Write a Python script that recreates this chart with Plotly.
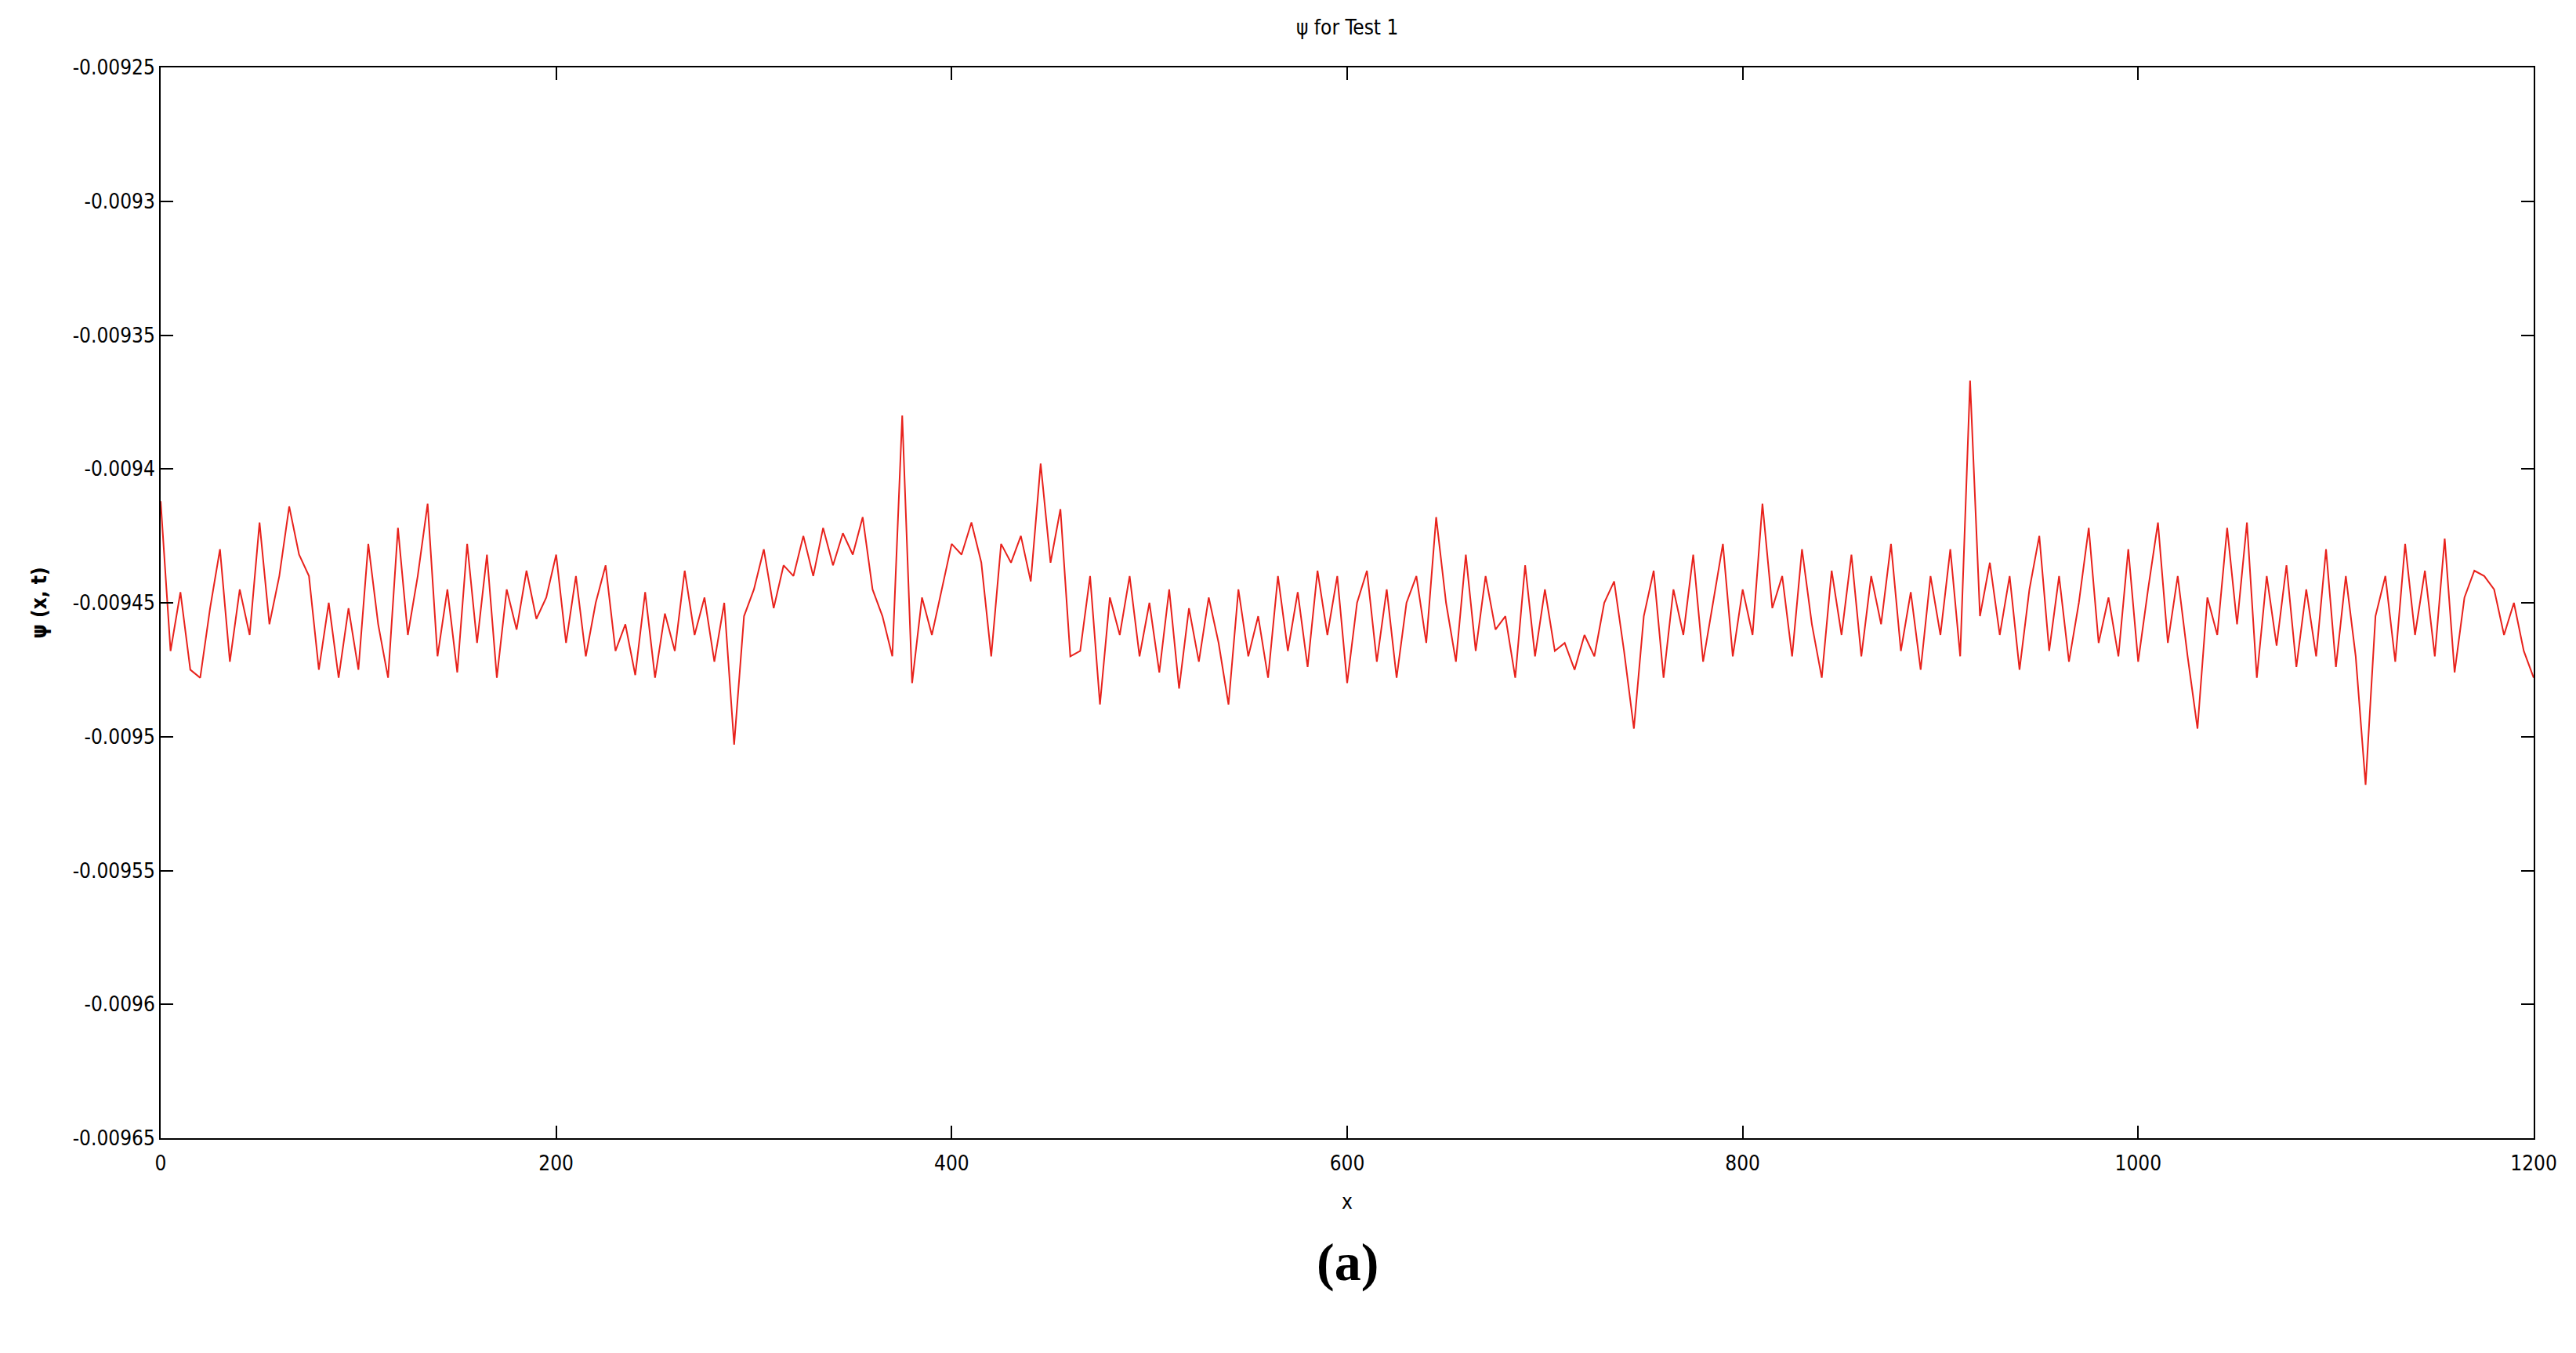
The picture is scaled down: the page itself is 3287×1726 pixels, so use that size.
import plotly.graph_objects as go

x_vals = list(range(0, 1201, 5))
psi = [
-0.009412,-0.009468,-0.009446,-0.009475,-0.009478,-0.009452,-0.009430,-0.009472,-0.009445,-0.009462,
-0.009420,-0.009458,-0.009440,-0.009414,-0.009432,-0.009440,-0.009475,-0.009450,-0.009478,-0.009452,
-0.009475,-0.009428,-0.009458,-0.009478,-0.009422,-0.009462,-0.009440,-0.009413,-0.009470,-0.009445,
-0.009476,-0.009428,-0.009465,-0.009432,-0.009478,-0.009445,-0.009460,-0.009438,-0.009456,-0.009448,
-0.009432,-0.009465,-0.009440,-0.009470,-0.009450,-0.009436,-0.009468,-0.009458,-0.009477,-0.009446,
-0.009478,-0.009454,-0.009468,-0.009438,-0.009462,-0.009448,-0.009472,-0.009450,-0.009503,-0.009455,
-0.009445,-0.009430,-0.009452,-0.009436,-0.009440,-0.009425,-0.009440,-0.009422,-0.009436,-0.009424,
-0.009432,-0.009418,-0.009445,-0.009455,-0.009470,-0.009380,-0.009480,-0.009448,-0.009462,-0.009445,
-0.009428,-0.009432,-0.009420,-0.009435,-0.009470,-0.009428,-0.009435,-0.009425,-0.009442,-0.009398,
-0.009435,-0.009415,-0.009470,-0.009468,-0.009440,-0.009488,-0.009448,-0.009462,-0.009440,-0.009470,
-0.009450,-0.009476,-0.009445,-0.009482,-0.009452,-0.009472,-0.009448,-0.009465,-0.009488,-0.009445,
-0.009470,-0.009455,-0.009478,-0.009440,-0.009468,-0.009446,-0.009474,-0.009438,-0.009462,-0.009440,
-0.009480,-0.009450,-0.009438,-0.009472,-0.009445,-0.009478,-0.009450,-0.009440,-0.009465,-0.009418,
-0.009450,-0.009472,-0.009432,-0.009468,-0.009440,-0.009460,-0.009455,-0.009478,-0.009436,-0.009470,
-0.009445,-0.009468,-0.009465,-0.009475,-0.009462,-0.009470,-0.009450,-0.009442,-0.009468,-0.009497,
-0.009455,-0.009438,-0.009478,-0.009445,-0.009462,-0.009432,-0.009472,-0.009450,-0.009428,-0.009470,
-0.009445,-0.009462,-0.009413,-0.009452,-0.009440,-0.009470,-0.009430,-0.009458,-0.009478,-0.009438,
-0.009462,-0.009432,-0.009470,-0.009440,-0.009458,-0.009428,-0.009468,-0.009446,-0.009475,-0.009440,
-0.009462,-0.009430,-0.009470,-0.009367,-0.009455,-0.009435,-0.009462,-0.009440,-0.009475,-0.009445,
-0.009425,-0.009468,-0.009440,-0.009472,-0.009450,-0.009422,-0.009465,-0.009448,-0.009470,-0.009430,
-0.009472,-0.009445,-0.009420,-0.009465,-0.009440,-0.009470,-0.009497,-0.009448,-0.009462,-0.009422,
-0.009458,-0.009420,-0.009478,-0.009440,-0.009466,-0.009436,-0.009474,-0.009445,-0.009470,-0.009430,
-0.009474,-0.009440,-0.009470,-0.009518,-0.009455,-0.009440,-0.009472,-0.009428,-0.009462,-0.009438,
-0.009470,-0.009426,-0.009476,-0.009448,-0.009438,-0.009440,-0.009445,-0.009462,-0.009450,-0.009468,
-0.009478,
]
y_ticks = [-0.00925, -0.0093, -0.00935, -0.0094, -0.00945, -0.0095, -0.00955, -0.0096, -0.00965]
y_labels = ["-0.00925", "-0.0093", "-0.00935", "-0.0094", "-0.00945", "-0.0095", "-0.00955", "-0.0096", "-0.00965"]
x_ticks = [0, 200, 400, 600, 800, 1000, 1200]

F = "DejaVu Sans Condensed"
fig = go.Figure(go.Scatter(x=x_vals, y=psi, mode="lines", line=dict(color="#e8221c", width=2)))
ax = dict(showline=True, linecolor="black", linewidth=2, mirror="ticks", ticks="inside",
          ticklen=16, tickwidth=2, tickcolor="black", showgrid=False, zeroline=False,
          tickfont=dict(family=F, size=26, color="black"))
fig.update_layout(
    width=3287, height=1726, plot_bgcolor="white", paper_bgcolor="white",
    margin=dict(l=197, r=62, t=78, b=282), showlegend=False,
    xaxis=dict(range=[0, 1200], tickvals=x_ticks, ticklabelstandoff=8,
               title=dict(text="x", font=dict(family=F, size=26, color="black"), standoff=26), **ax),
    yaxis=dict(range=[-0.00965, -0.00925], tickvals=y_ticks, ticktext=y_labels,
               title=dict(text="<b>ψ (x, t)</b>", font=dict(family=F, size=26, color="black"), standoff=26), **ax),
    annotations=[
        dict(text="ψ for Test 1", x=0.5, y=1, xref="paper", yref="paper", yanchor="bottom", yshift=34,
             showarrow=False, font=dict(family=F, size=26, color="black")),
        dict(text="<b>(a)</b>", x=0.5, y=0, xref="paper", yref="paper", yanchor="top", yshift=-118,
             showarrow=False, font=dict(family="Liberation Serif", size=68, color="black")),
    ],
)
fig.write_html("out.html")
